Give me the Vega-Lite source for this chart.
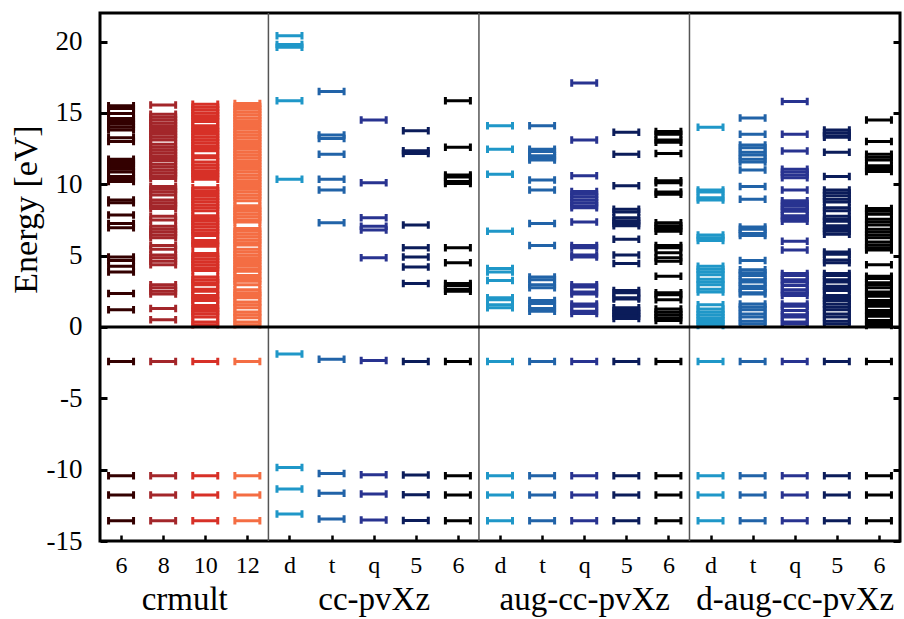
{
"$schema": "https://vega.github.io/schema/vega-lite/v6.json",
"width": 800, "height": 528,
"autosize": {"type": "none"},
"padding": {"left": 100, "top": 13, "right": 4, "bottom": 78},
"background": "white",
"config": {"view": {"stroke": "black", "strokeWidth": 3}, "font": "Liberation Serif"},
"datasets": {
"levels": [
{"c":"m6","e":15.5},{"c":"m6","e":15.3},{"c":"m6","e":14.95},{"c":"m6","e":14.6},{"c":"m6","e":14.4},{"c":"m6","e":14.2},{"c":"m6","e":14.0},{"c":"m6","e":13.8},{"c":"m6","e":13.25},{"c":"m6","e":13.0},{"c":"m6","e":11.75},{"c":"m6","e":11.6},{"c":"m6","e":11.45},{"c":"m6","e":11.25},{"c":"m6","e":11.05},{"c":"m6","e":10.85},{"c":"m6","e":10.55},{"c":"m6","e":10.4},{"c":"m6","e":10.2},{"c":"m6","e":8.9},{"c":"m6","e":8.7},{"c":"m6","e":7.85},{"c":"m6","e":7.25},{"c":"m6","e":6.95},{"c":"m6","e":4.9},{"c":"m6","e":4.65},{"c":"m6","e":4.25},{"c":"m6","e":3.85},{"c":"m6","e":2.35},{"c":"m6","e":1.2},{"c":"m6","e":-2.43},{"c":"m6","e":-10.43},{"c":"m6","e":-11.77},{"c":"m6","e":-13.58},
{"c":"m8","e":15.55},{"c":"m8","e":14.9},{"c":"m8","e":14.7},{"c":"m8","e":14.5},{"c":"m8","e":14.3},{"c":"m8","e":14.1},{"c":"m8","e":13.9},{"c":"m8","e":13.7},{"c":"m8","e":13.5},{"c":"m8","e":13.3},{"c":"m8","e":13.1},{"c":"m8","e":12.8},{"c":"m8","e":12.6},{"c":"m8","e":12.4},{"c":"m8","e":12.2},{"c":"m8","e":12.0},{"c":"m8","e":11.8},{"c":"m8","e":11.65},{"c":"m8","e":11.4},{"c":"m8","e":11.2},{"c":"m8","e":11.0},{"c":"m8","e":10.8},{"c":"m8","e":10.6},{"c":"m8","e":10.4},{"c":"m8","e":9.85},{"c":"m8","e":9.65},{"c":"m8","e":9.45},{"c":"m8","e":9.25},{"c":"m8","e":8.9},{"c":"m8","e":8.7},{"c":"m8","e":8.5},{"c":"m8","e":8.3},{"c":"m8","e":7.75},{"c":"m8","e":7.5},{"c":"m8","e":7.05},{"c":"m8","e":6.85},{"c":"m8","e":6.65},{"c":"m8","e":6.45},{"c":"m8","e":6.25},{"c":"m8","e":5.7},{"c":"m8","e":5.45},{"c":"m8","e":5.05},{"c":"m8","e":4.85},{"c":"m8","e":4.6},{"c":"m8","e":4.35},{"c":"m8","e":2.95},{"c":"m8","e":2.75},{"c":"m8","e":2.5},{"c":"m8","e":2.3},{"c":"m8","e":1.3},{"c":"m8","e":0.5},{"c":"m8","e":-2.43},{"c":"m8","e":-10.43},{"c":"m8","e":-11.77},{"c":"m8","e":-13.58},
{"c":"m10","e":15.6},{"c":"m10","e":15.4},{"c":"m10","e":15.2},{"c":"m10","e":15.0},{"c":"m10","e":14.8},{"c":"m10","e":14.6},{"c":"m10","e":14.4},{"c":"m10","e":14.1},{"c":"m10","e":13.9},{"c":"m10","e":13.7},{"c":"m10","e":13.5},{"c":"m10","e":13.3},{"c":"m10","e":13.1},{"c":"m10","e":12.9},{"c":"m10","e":12.7},{"c":"m10","e":12.5},{"c":"m10","e":12.35},{"c":"m10","e":12.0},{"c":"m10","e":11.85},{"c":"m10","e":11.55},{"c":"m10","e":11.35},{"c":"m10","e":11.15},{"c":"m10","e":10.95},{"c":"m10","e":10.75},{"c":"m10","e":10.55},{"c":"m10","e":10.35},{"c":"m10","e":9.75},{"c":"m10","e":9.55},{"c":"m10","e":9.35},{"c":"m10","e":9.15},{"c":"m10","e":8.95},{"c":"m10","e":8.75},{"c":"m10","e":8.55},{"c":"m10","e":8.35},{"c":"m10","e":8.15},{"c":"m10","e":7.8},{"c":"m10","e":7.6},{"c":"m10","e":7.4},{"c":"m10","e":7.2},{"c":"m10","e":7.0},{"c":"m10","e":6.8},{"c":"m10","e":6.6},{"c":"m10","e":6.4},{"c":"m10","e":6.05},{"c":"m10","e":5.85},{"c":"m10","e":5.65},{"c":"m10","e":5.15},{"c":"m10","e":4.95},{"c":"m10","e":4.75},{"c":"m10","e":4.55},{"c":"m10","e":4.35},{"c":"m10","e":4.15},{"c":"m10","e":3.95},{"c":"m10","e":3.5},{"c":"m10","e":3.3},{"c":"m10","e":3.1},{"c":"m10","e":2.95},{"c":"m10","e":2.65},{"c":"m10","e":2.5},{"c":"m10","e":2.2},{"c":"m10","e":2.0},{"c":"m10","e":1.85},{"c":"m10","e":1.5},{"c":"m10","e":1.3},{"c":"m10","e":1.1},{"c":"m10","e":0.9},{"c":"m10","e":0.7},{"c":"m10","e":0.35},{"c":"m10","e":0.15},{"c":"m10","e":-2.43},{"c":"m10","e":-10.43},{"c":"m10","e":-11.77},{"c":"m10","e":-13.58},
{"c":"m12","e":15.65},{"c":"m12","e":15.45},{"c":"m12","e":15.25},{"c":"m12","e":15.05},{"c":"m12","e":14.85},{"c":"m12","e":14.65},{"c":"m12","e":14.45},{"c":"m12","e":14.25},{"c":"m12","e":14.05},{"c":"m12","e":13.85},{"c":"m12","e":13.65},{"c":"m12","e":13.45},{"c":"m12","e":13.25},{"c":"m12","e":13.05},{"c":"m12","e":12.85},{"c":"m12","e":12.65},{"c":"m12","e":12.45},{"c":"m12","e":12.25},{"c":"m12","e":12.05},{"c":"m12","e":11.85},{"c":"m12","e":11.65},{"c":"m12","e":11.45},{"c":"m12","e":11.25},{"c":"m12","e":11.05},{"c":"m12","e":10.85},{"c":"m12","e":10.65},{"c":"m12","e":10.45},{"c":"m12","e":10.25},{"c":"m12","e":10.05},{"c":"m12","e":9.85},{"c":"m12","e":9.65},{"c":"m12","e":9.45},{"c":"m12","e":9.25},{"c":"m12","e":9.05},{"c":"m12","e":8.85},{"c":"m12","e":8.5},{"c":"m12","e":8.3},{"c":"m12","e":8.1},{"c":"m12","e":7.9},{"c":"m12","e":7.7},{"c":"m12","e":7.5},{"c":"m12","e":7.35},{"c":"m12","e":6.9},{"c":"m12","e":6.7},{"c":"m12","e":6.5},{"c":"m12","e":6.3},{"c":"m12","e":6.1},{"c":"m12","e":5.9},{"c":"m12","e":5.75},{"c":"m12","e":5.45},{"c":"m12","e":5.25},{"c":"m12","e":5.05},{"c":"m12","e":4.85},{"c":"m12","e":4.65},{"c":"m12","e":4.45},{"c":"m12","e":4.25},{"c":"m12","e":4.05},{"c":"m12","e":3.9},{"c":"m12","e":3.6},{"c":"m12","e":3.4},{"c":"m12","e":3.2},{"c":"m12","e":2.95},{"c":"m12","e":2.6},{"c":"m12","e":2.4},{"c":"m12","e":2.2},{"c":"m12","e":2.05},{"c":"m12","e":1.75},{"c":"m12","e":1.55},{"c":"m12","e":1.35},{"c":"m12","e":1.05},{"c":"m12","e":0.85},{"c":"m12","e":0.65},{"c":"m12","e":0.35},{"c":"m12","e":0.15},{"c":"m12","e":-2.43},{"c":"m12","e":-10.43},{"c":"m12","e":-11.77},{"c":"m12","e":-13.58},
{"c":"cd","e":20.4},{"c":"cd","e":19.8},{"c":"cd","e":19.6},{"c":"cd","e":15.85},{"c":"cd","e":10.35},{"c":"cd","e":-1.89},{"c":"cd","e":-9.85},{"c":"cd","e":-11.36},{"c":"cd","e":-13.1},
{"c":"ct","e":16.5},{"c":"ct","e":13.45},{"c":"ct","e":13.2},{"c":"ct","e":12.1},{"c":"ct","e":10.35},{"c":"ct","e":9.6},{"c":"ct","e":7.3},{"c":"ct","e":-2.26},{"c":"ct","e":-10.27},{"c":"ct","e":-11.66},{"c":"ct","e":-13.46},
{"c":"cq","e":14.5},{"c":"cq","e":10.1},{"c":"cq","e":7.65},{"c":"cq","e":7.05},{"c":"cq","e":6.8},{"c":"cq","e":4.85},{"c":"cq","e":-2.36},{"c":"cq","e":-10.36},{"c":"cq","e":-11.71},{"c":"cq","e":-13.53},
{"c":"c5","e":13.75},{"c":"c5","e":12.35},{"c":"c5","e":12.15},{"c":"c5","e":7.15},{"c":"c5","e":5.55},{"c":"c5","e":4.9},{"c":"c5","e":4.2},{"c":"c5","e":3.05},{"c":"c5","e":-2.42},{"c":"c5","e":-10.38},{"c":"c5","e":-11.76},{"c":"c5","e":-13.57},
{"c":"c6","e":15.85},{"c":"c6","e":12.6},{"c":"c6","e":10.65},{"c":"c6","e":10.5},{"c":"c6","e":10.2},{"c":"c6","e":10.05},{"c":"c6","e":5.55},{"c":"c6","e":4.5},{"c":"c6","e":3.05},{"c":"c6","e":2.9},{"c":"c6","e":2.65},{"c":"c6","e":2.5},{"c":"c6","e":-2.43},{"c":"c6","e":-10.43},{"c":"c6","e":-11.77},{"c":"c6","e":-13.58},
{"c":"ad","e":14.1},{"c":"ad","e":12.45},{"c":"ad","e":10.7},{"c":"ad","e":6.7},{"c":"ad","e":4.1},{"c":"ad","e":3.85},{"c":"ad","e":3.25},{"c":"ad","e":2.05},{"c":"ad","e":1.9},{"c":"ad","e":1.55},{"c":"ad","e":1.35},{"c":"ad","e":-2.43},{"c":"ad","e":-10.43},{"c":"ad","e":-11.77},{"c":"ad","e":-13.58},
{"c":"at","e":14.1},{"c":"at","e":12.45},{"c":"at","e":12.3},{"c":"at","e":12.0},{"c":"at","e":11.85},{"c":"at","e":11.7},{"c":"at","e":10.3},{"c":"at","e":9.6},{"c":"at","e":7.25},{"c":"at","e":5.7},{"c":"at","e":3.5},{"c":"at","e":3.3},{"c":"at","e":2.95},{"c":"at","e":2.75},{"c":"at","e":1.85},{"c":"at","e":1.65},{"c":"at","e":1.3},{"c":"at","e":1.1},{"c":"at","e":-2.43},{"c":"at","e":-10.43},{"c":"at","e":-11.77},{"c":"at","e":-13.58},
{"c":"aq","e":17.1},{"c":"aq","e":13.1},{"c":"aq","e":10.6},{"c":"aq","e":9.5},{"c":"aq","e":9.3},{"c":"aq","e":9.1},{"c":"aq","e":8.9},{"c":"aq","e":8.7},{"c":"aq","e":8.5},{"c":"aq","e":8.35},{"c":"aq","e":7.35},{"c":"aq","e":5.7},{"c":"aq","e":5.55},{"c":"aq","e":5.05},{"c":"aq","e":4.9},{"c":"aq","e":2.95},{"c":"aq","e":2.8},{"c":"aq","e":2.45},{"c":"aq","e":2.3},{"c":"aq","e":1.6},{"c":"aq","e":1.45},{"c":"aq","e":1.1},{"c":"aq","e":0.95},{"c":"aq","e":-2.43},{"c":"aq","e":-10.43},{"c":"aq","e":-11.77},{"c":"aq","e":-13.58},
{"c":"a5","e":13.65},{"c":"a5","e":12.1},{"c":"a5","e":9.9},{"c":"a5","e":8.25},{"c":"a5","e":8.05},{"c":"a5","e":7.65},{"c":"a5","e":7.45},{"c":"a5","e":7.25},{"c":"a5","e":7.1},{"c":"a5","e":6.15},{"c":"a5","e":5.05},{"c":"a5","e":4.45},{"c":"a5","e":2.55},{"c":"a5","e":2.4},{"c":"a5","e":2.05},{"c":"a5","e":1.95},{"c":"a5","e":1.35},{"c":"a5","e":1.15},{"c":"a5","e":0.95},{"c":"a5","e":0.75},{"c":"a5","e":0.6},{"c":"a5","e":-2.43},{"c":"a5","e":-10.43},{"c":"a5","e":-11.77},{"c":"a5","e":-13.58},
{"c":"a6","e":13.7},{"c":"a6","e":13.5},{"c":"a6","e":13.1},{"c":"a6","e":12.95},{"c":"a6","e":12.15},{"c":"a6","e":10.25},{"c":"a6","e":10.1},{"c":"a6","e":9.45},{"c":"a6","e":9.3},{"c":"a6","e":7.3},{"c":"a6","e":7.1},{"c":"a6","e":6.9},{"c":"a6","e":6.7},{"c":"a6","e":5.7},{"c":"a6","e":5.55},{"c":"a6","e":5.2},{"c":"a6","e":4.85},{"c":"a6","e":4.6},{"c":"a6","e":3.55},{"c":"a6","e":2.4},{"c":"a6","e":2.25},{"c":"a6","e":1.9},{"c":"a6","e":1.25},{"c":"a6","e":1.05},{"c":"a6","e":0.85},{"c":"a6","e":0.65},{"c":"a6","e":0.45},{"c":"a6","e":-2.43},{"c":"a6","e":-10.43},{"c":"a6","e":-11.77},{"c":"a6","e":-13.58},
{"c":"dd","e":14.0},{"c":"dd","e":9.6},{"c":"dd","e":9.45},{"c":"dd","e":9.05},{"c":"dd","e":8.9},{"c":"dd","e":6.45},{"c":"dd","e":6.25},{"c":"dd","e":6.05},{"c":"dd","e":4.25},{"c":"dd","e":4.05},{"c":"dd","e":3.85},{"c":"dd","e":3.65},{"c":"dd","e":3.35},{"c":"dd","e":3.15},{"c":"dd","e":2.95},{"c":"dd","e":2.65},{"c":"dd","e":2.45},{"c":"dd","e":1.55},{"c":"dd","e":1.25},{"c":"dd","e":1.05},{"c":"dd","e":0.85},{"c":"dd","e":0.65},{"c":"dd","e":0.45},{"c":"dd","e":0.25},{"c":"dd","e":0.1},{"c":"dd","e":-2.43},{"c":"dd","e":-10.43},{"c":"dd","e":-11.77},{"c":"dd","e":-13.58},
{"c":"dt","e":14.65},{"c":"dt","e":13.5},{"c":"dt","e":12.75},{"c":"dt","e":12.55},{"c":"dt","e":12.25},{"c":"dt","e":12.05},{"c":"dt","e":11.75},{"c":"dt","e":11.55},{"c":"dt","e":11.0},{"c":"dt","e":9.85},{"c":"dt","e":8.95},{"c":"dt","e":7.0},{"c":"dt","e":6.85},{"c":"dt","e":6.55},{"c":"dt","e":6.4},{"c":"dt","e":4.65},{"c":"dt","e":4.0},{"c":"dt","e":3.8},{"c":"dt","e":3.6},{"c":"dt","e":3.3},{"c":"dt","e":3.15},{"c":"dt","e":2.85},{"c":"dt","e":2.7},{"c":"dt","e":2.4},{"c":"dt","e":2.3},{"c":"dt","e":1.6},{"c":"dt","e":1.4},{"c":"dt","e":1.2},{"c":"dt","e":0.9},{"c":"dt","e":0.7},{"c":"dt","e":0.4},{"c":"dt","e":0.2},{"c":"dt","e":-2.43},{"c":"dt","e":-10.43},{"c":"dt","e":-11.77},{"c":"dt","e":-13.58},
{"c":"dq","e":15.8},{"c":"dq","e":13.5},{"c":"dq","e":12.33},{"c":"dq","e":11.05},{"c":"dq","e":10.85},{"c":"dq","e":10.65},{"c":"dq","e":10.45},{"c":"dq","e":9.6},{"c":"dq","e":8.85},{"c":"dq","e":8.65},{"c":"dq","e":8.45},{"c":"dq","e":8.25},{"c":"dq","e":8.1},{"c":"dq","e":7.8},{"c":"dq","e":7.6},{"c":"dq","e":7.4},{"c":"dq","e":6.0},{"c":"dq","e":5.4},{"c":"dq","e":3.75},{"c":"dq","e":3.6},{"c":"dq","e":3.3},{"c":"dq","e":3.15},{"c":"dq","e":2.9},{"c":"dq","e":2.6},{"c":"dq","e":2.4},{"c":"dq","e":2.2},{"c":"dq","e":1.6},{"c":"dq","e":1.45},{"c":"dq","e":1.15},{"c":"dq","e":0.85},{"c":"dq","e":0.7},{"c":"dq","e":0.35},{"c":"dq","e":0.2},{"c":"dq","e":-2.43},{"c":"dq","e":-10.43},{"c":"dq","e":-11.77},{"c":"dq","e":-13.58},
{"c":"d5","e":13.8},{"c":"d5","e":13.6},{"c":"d5","e":13.4},{"c":"d5","e":13.3},{"c":"d5","e":12.25},{"c":"d5","e":10.55},{"c":"d5","e":9.6},{"c":"d5","e":9.4},{"c":"d5","e":9.2},{"c":"d5","e":8.95},{"c":"d5","e":8.75},{"c":"d5","e":8.35},{"c":"d5","e":8.15},{"c":"d5","e":7.75},{"c":"d5","e":7.55},{"c":"d5","e":7.4},{"c":"d5","e":7.1},{"c":"d5","e":6.9},{"c":"d5","e":6.7},{"c":"d5","e":6.5},{"c":"d5","e":5.25},{"c":"d5","e":5.1},{"c":"d5","e":4.7},{"c":"d5","e":4.5},{"c":"d5","e":3.75},{"c":"d5","e":3.6},{"c":"d5","e":3.3},{"c":"d5","e":3.15},{"c":"d5","e":2.85},{"c":"d5","e":2.7},{"c":"d5","e":2.55},{"c":"d5","e":2.2},{"c":"d5","e":2.0},{"c":"d5","e":1.85},{"c":"d5","e":1.6},{"c":"d5","e":1.4},{"c":"d5","e":1.2},{"c":"d5","e":0.9},{"c":"d5","e":0.7},{"c":"d5","e":0.4},{"c":"d5","e":0.2},{"c":"d5","e":-2.43},{"c":"d5","e":-10.43},{"c":"d5","e":-11.77},{"c":"d5","e":-13.58},
{"c":"d6","e":14.5},{"c":"d6","e":13.0},{"c":"d6","e":12.1},{"c":"d6","e":11.9},{"c":"d6","e":11.7},{"c":"d6","e":11.3},{"c":"d6","e":11.1},{"c":"d6","e":10.9},{"c":"d6","e":8.3},{"c":"d6","e":8.1},{"c":"d6","e":7.9},{"c":"d6","e":7.55},{"c":"d6","e":7.35},{"c":"d6","e":7.15},{"c":"d6","e":6.85},{"c":"d6","e":6.65},{"c":"d6","e":6.45},{"c":"d6","e":6.25},{"c":"d6","e":5.95},{"c":"d6","e":5.75},{"c":"d6","e":5.55},{"c":"d6","e":5.4},{"c":"d6","e":4.35},{"c":"d6","e":3.55},{"c":"d6","e":3.4},{"c":"d6","e":3.1},{"c":"d6","e":2.95},{"c":"d6","e":2.75},{"c":"d6","e":2.45},{"c":"d6","e":2.3},{"c":"d6","e":2.15},{"c":"d6","e":1.85},{"c":"d6","e":1.65},{"c":"d6","e":1.45},{"c":"d6","e":1.15},{"c":"d6","e":0.95},{"c":"d6","e":0.75},{"c":"d6","e":0.45},{"c":"d6","e":0.25},{"c":"d6","e":0.1},{"c":"d6","e":-2.43},{"c":"d6","e":-10.43},{"c":"d6","e":-11.77},{"c":"d6","e":-13.58}
]
},
"layer": [
{
"data": {"values": [{"g": 4}, {"g": 9}, {"g": 14}]},
"mark": {"type": "rule", "color": "#555555", "strokeWidth": 1.5},
"encoding": {
"x": {"field": "g", "type": "quantitative", "scale": {"domain": [0, 19], "nice": false, "zero": false},
"axis": {"orient": "bottom", "values": [2, 6.5, 11.5, 16.5], "labelExpr": "datum.value == 2 ? 'crmult' : datum.value == 6.5 ? 'cc-pvXz' : datum.value == 11.5 ? 'aug-cc-pvXz' : 'd-aug-cc-pvXz'", "ticks": false, "domain": false, "grid": false, "title": null, "labelFontSize": 33, "labelPadding": 42, "labelLimit": 0, "labelFlush": false, "labelOverlap": false, "labelBound": false, "labelColor": "black"}}
}
},
{
"data": {"name": "levels"},
"mark": {"type": "point", "shape": "M-1,0L1,0M-1,-0.3L-1,0.3M1,-0.3L1,0.3", "size": 625, "filled": false, "strokeWidth": 3, "opacity": 1},
"encoding": {
"x": {"field": "c", "type": "nominal", "sort": null,
"scale": {"domain": ["m6","m8","m10","m12","cd","ct","cq","c5","c6","ad","at","aq","a5","a6","dd","dt","dq","d5","d6"], "paddingInner": 0, "paddingOuter": 0},
"axis": {"orient": "bottom", "title": null, "labelExpr": "substring(datum.value, 1)", "labelAngle": 0, "labelFontSize": 24, "labelPadding": 18, "tickSize": -6, "tickWidth": 2.5, "tickColor": "black", "domain": false, "grid": false, "labelColor": "black"}},
"y": {"field": "e", "type": "quantitative", "scale": {"domain": [-15, 22], "nice": false, "zero": false},
"axis": {"orient": "left", "values": [-15, -10, -5, 0, 5, 10, 15, 20], "labelExpr": "datum.value + ''", "title": "Energy [eV]", "titleFontSize": 34, "titleFontWeight": "normal", "titlePadding": 3, "titleY": 196, "titleAlign": "center", "titleColor": "black", "labelFontSize": 27, "labelPadding": 25, "tickSize": -7, "tickWidth": 3, "tickColor": "black", "domain": false, "grid": false, "labelColor": "black"}},
"color": {"field": "c", "type": "nominal", "legend": null,
"scale": {"domain": ["m6","m8","m10","m12","cd","ct","cq","c5","c6","ad","at","aq","a5","a6","dd","dt","dq","d5","d6"],
"range": ["#330000","#a3262a","#d73027","#f46d43","#1f97c8","#2163a8","#283390","#0b1c5a","#000000","#1f97c8","#2163a8","#283390","#0b1c5a","#000000","#1f97c8","#2163a8","#283390","#0b1c5a","#000000"]}}
}
},
{
"data": {"values": [{"z": 0}]},
"mark": {"type": "rule", "color": "black", "strokeWidth": 3},
"encoding": {
"y": {"field": "z", "type": "quantitative", "scale": {"domain": [-15, 22], "nice": false, "zero": false},
"axis": {"orient": "right", "values": [-15, -10, -5, 0, 5, 10, 15, 20], "labels": false, "title": null, "tickSize": -7, "tickWidth": 3, "tickColor": "black", "domain": false, "grid": false}}
}
}
],
"resolve": {"scale": {"x": "independent"}, "axis": {"x": "independent", "y": "independent"}}
}
